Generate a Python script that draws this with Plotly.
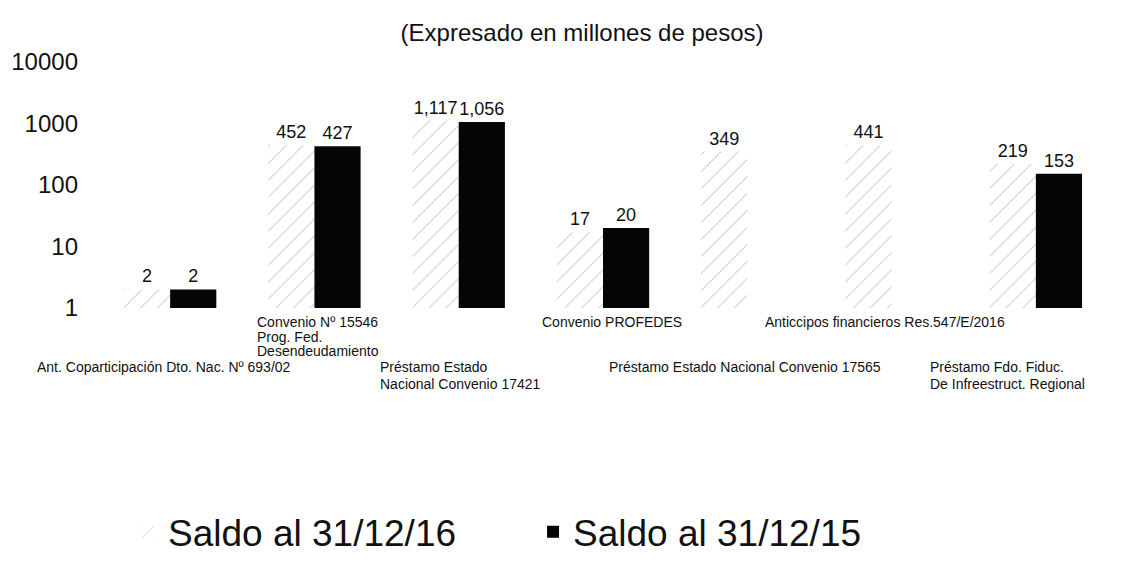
import plotly.graph_objects as go

# Category names; "<br>" marks a line break in the axis label
categories = [
    "Ant. Coparticipación Dto. Nac. Nº 693/02",
    "Convenio Nº 15546<br>Prog. Fed.<br>Desendeudamiento",
    "Préstamo Estado<br>Nacional Convenio 17421",
    "Convenio PROFEDES",
    "Préstamo Estado Nacional Convenio 17565",
    "Anticcipos financieros Res.547/E/2016",
    "Préstamo Fdo. Fiduc.<br>De Infreestruct. Regional",
]
cat_keys = ["c1", "c2", "c3", "c4", "c5", "c6", "c7"]

# Balances in millions of pesos
saldo_2016 = [2, 452, 1117, 17, 349, 441, 219]
saldo_2015 = [2, 427, 1056, 20, None, None, 153]

series_names = ["Saldo al 31/12/16", "Saldo al 31/12/15"]
tick_vals = [1, 10, 100, 1000, 10000]
tick_text = ["1", "10", "100", "1000", "10000"]

FONT = "Liberation Sans, Arial, sans-serif"

fig = go.Figure()
fig.add_trace(go.Bar(
    x=cat_keys, y=saldo_2016, name=series_names[0],
    marker=dict(color="white", line=dict(width=0),
                pattern=dict(shape="/", fgcolor="#333", fgopacity=0.35,
                             size=12, solidity=0.08)),
    text=[f"{v:,}" if v is not None else "" for v in saldo_2016],
    textposition="outside", constraintext="none", cliponaxis=False,
    textfont=dict(family=FONT, size=18, color="#111"),
))
fig.add_trace(go.Bar(
    x=cat_keys, y=saldo_2015, name=series_names[1],
    marker=dict(color="#050505", line=dict(width=0)),
    text=[f"{v:,}" if v is not None else "" for v in saldo_2015],
    textposition="outside", constraintext="none", cliponaxis=False,
    textfont=dict(family=FONT, size=18, color="#111"),
))

# Staggered, left-aligned category labels: even categories on the upper row,
# odd categories on the lower row. Each line is its own annotation so the
# line spacing can be kept tight.
label_rows = [1, 0, 1, 0, 1, 0, 1]
label_left = [-135, -59, -81, -63, -140, -129, -108]   # px from category centre
row_top = {0: 14, 1: 59}        # px below the x axis for the first line
row_step = {0: 14.5, 1: 16.5}   # px between lines
for key, text, row, dx in zip(cat_keys, categories, label_rows, label_left):
    for i, line in enumerate(text.split("<br>")):
        fig.add_annotation(
            x=key, xref="x", y=0, yref="paper",
            text=line, showarrow=False, align="left",
            xanchor="left", yanchor="middle", xshift=dx,
            yshift=-(row_top[row] + i * row_step[row]),
            font=dict(family=FONT, size=14, color="#111"),
        )

fig.update_layout(
    width=1128, height=568,
    margin=dict(l=98, r=20, t=62, b=260, autoexpand=False),
    paper_bgcolor="white", plot_bgcolor="white",
    barmode="group", bargap=0.36, bargroupgap=0.0,
    title=dict(text="(Expresado en millones de pesos)", x=0.516, xanchor="center",
               y=0.942, yanchor="middle",
               font=dict(family=FONT, size=24, color="#111")),
    font=dict(family=FONT, color="#111"),
    showlegend=True,
    legend=dict(orientation="h", xref="container", yref="container",
                x=0.1135, xanchor="left", y=0.063, yanchor="middle",
                entrywidth=360, entrywidthmode="pixels",
                font=dict(family=FONT, size=37, color="#111"),
                itemwidth=30, traceorder="normal"),
    xaxis=dict(range=[-0.5, 6.5], autorange=False, showticklabels=False,
               showline=False, showgrid=False, zeroline=False, ticks=""),
    yaxis=dict(type="log", range=[0, 4], tickvals=tick_vals, ticktext=tick_text,
               showline=False, showgrid=False, zeroline=False, ticks="",
               tickfont=dict(family=FONT, size=24, color="#111"), ticklabelstandoff=19),
)

fig.write_html("out.html")
